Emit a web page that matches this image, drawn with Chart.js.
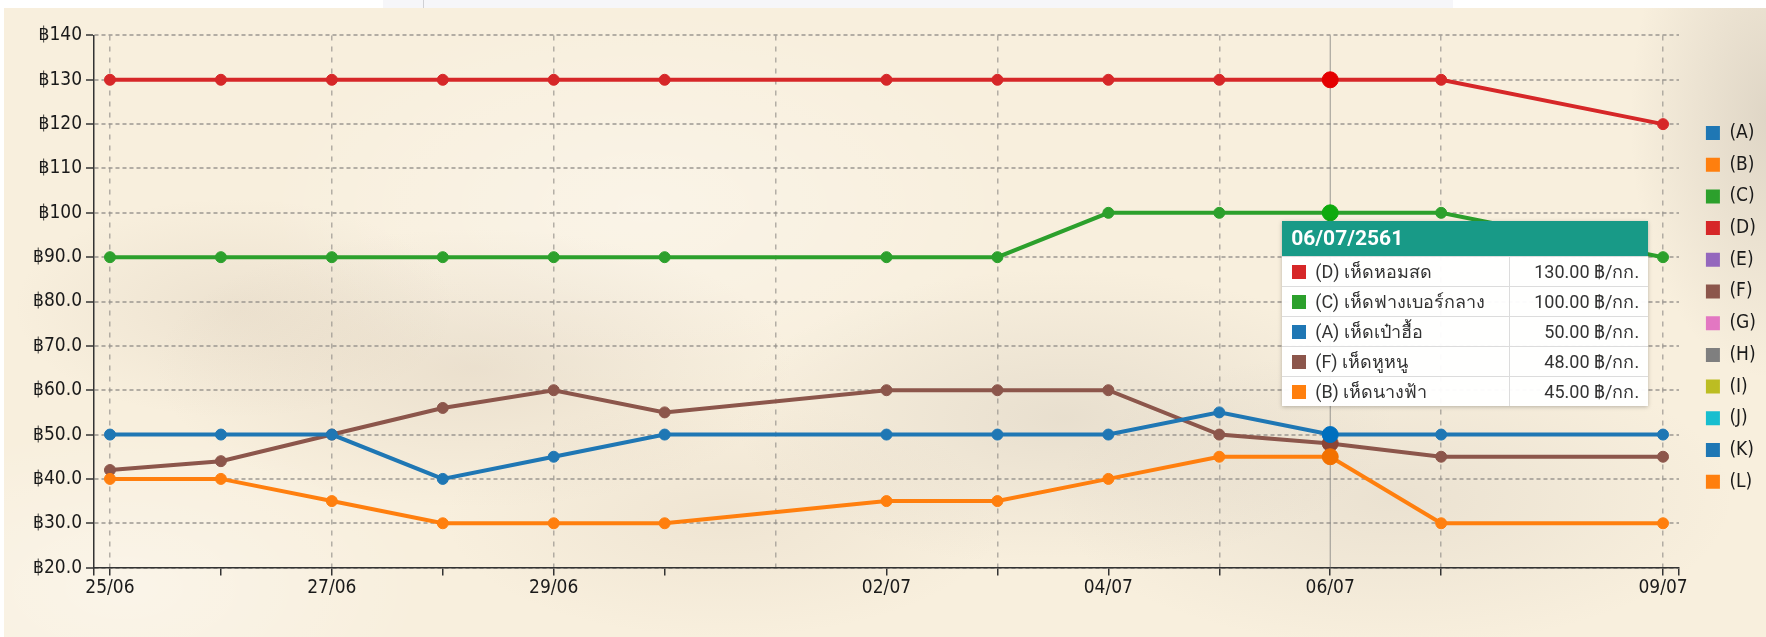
<!DOCTYPE html>
<html>
<head>
<meta charset="utf-8">
<script src="https://cdn.jsdelivr.net/npm/chart.js@4.4.0/dist/chart.umd.min.js"></script>
<style>
  html, body { margin:0; padding:0; width:1766px; height:637px; overflow:hidden; background:#fff; }
  #panel {
    position:absolute; left:4px; top:8px; right:0; bottom:0;
    background:
      radial-gradient(ellipse 320px 140px at 470px 360px, rgba(175,155,135,0.18), rgba(175,155,135,0)),
      radial-gradient(ellipse 220px 110px at 230px 300px, rgba(170,150,130,0.14), rgba(170,150,130,0)),
      radial-gradient(ellipse 330px 150px at 1060px 410px, rgba(160,150,140,0.18), rgba(160,150,140,0)),
      radial-gradient(ellipse 140px 260px at 1766px 110px, rgba(150,140,130,0.26), rgba(150,140,130,0)),
      radial-gradient(ellipse 280px 120px at 720px 510px, rgba(175,155,135,0.12), rgba(175,155,135,0)),
      radial-gradient(ellipse 340px 150px at 1390px 490px, rgba(165,155,145,0.16), rgba(165,155,145,0)),
      radial-gradient(ellipse 380px 200px at 640px 200px, rgba(255,255,255,0.3), rgba(255,255,255,0)),
      radial-gradient(ellipse 300px 160px at 120px 580px, rgba(255,255,255,0.35), rgba(255,255,255,0)),
      #f8efdd;
  }
  #topbar { position:absolute; left:383px; top:0; width:1070px; height:8px; background:#f6f6f9; }
  #topline { position:absolute; left:423px; top:0; width:1px; height:8px; background:#d0d0d4; }
  #clip { position:absolute; left:0; top:25px; width:1766px; height:612px; overflow:hidden; }
  #box { position:absolute; left:0; top:-4px; width:1766px; height:616px; }
  #tip {
    position:absolute; top:221px; width:366px; display:none;
    background:rgba(255,255,255,0.96); box-shadow:0 1px 4px rgba(0,0,0,0.25);
    font-family:Roboto, 'Noto Sans', sans-serif; color:#333;
  }
  #tip .head { background:rgba(6,146,126,0.93); color:#fff; font-weight:bold; font-size:21px;
    height:35px; line-height:35px; padding-left:9px; }
  #tip table { border-collapse:collapse; width:100%; font-size:18px; }
  #tip td { height:28px; padding:0; border-top:1px solid #dcdcdc; white-space:nowrap; }
  #tip td.name { padding-left:10px; }
  #tip td.val { text-align:right; padding-right:9px; border-left:1px solid #dcdcdc; width:129px; }
  #tip .sw { display:inline-block; width:14px; height:14px; margin-right:9px; vertical-align:-1px; }
</style>
</head>
<body>
<div id="panel"></div>
<div id="topbar"></div>
<div id="topline"></div>
<div id="clip"><div id="box"><canvas id="price-chart"></canvas></div></div>
<div id="tip"></div>
<script>
// วันที่มีราคา (dd/mm) ปี พ.ศ. 2561
const dates = ['25/06', '26/06', '27/06', '28/06', '29/06', '30/06', '02/07', '03/07', '04/07', '05/07', '06/07', '07/07', '09/07'];
const yearTh = '2561';
const labeledDates = ['25/06', '27/06', '29/06', '02/07', '04/07', '06/07', '09/07'];
const selectedDate = '06/07';

const codes = ['(A)', '(B)', '(C)', '(D)', '(E)', '(F)', '(G)', '(H)', '(I)', '(J)', '(K)', '(L)'];
const names = ['เห็ดเป๋าฮื้อ', 'เห็ดนางฟ้า', 'เห็ดฟางเบอร์กลาง', 'เห็ดหอมสด', '', 'เห็ดหูหนู', '', '', '', '', '', ''];
const colors = ['#1f77b4', '#ff7f0e', '#2ca02c', '#d62728', '#9467bd', '#8c564b', '#e377c2', '#7f7f7f', '#bcbd22', '#17becf', '#1f77b4', '#ff7f0e'];

const priceA = [50, 50, 50, 40, 45, 50, 50, 50, 50, 55, 50, 50, 50];
const priceB = [40, 40, 35, 30, 30, 30, 35, 35, 40, 45, 45, 30, 30];
const priceC = [90, 90, 90, 90, 90, 90, 90, 90, 100, 100, 100, 100, 90];
const priceD = [130, 130, 130, 130, 130, 130, 130, 130, 130, 130, 130, 130, 120];
const priceF = [42, 44, 50, 56, 60, 55, 60, 60, 60, 50, 48, 45, 45];
const series = [priceA, priceB, priceC, priceD, [], priceF, [], [], [], [], [], []];

const unit = '฿/กก.';
const yMin = 20, yMax = 140, yStep = 10;

const FONT = "'DejaVu Sans Condensed', 'DejaVu Sans', sans-serif";
Chart.defaults.font.family = FONT;
Chart.defaults.color = '#1a1a1a';

// day number from dd/mm
function dayNum(s) {
    const p = s.split('/').map(Number);
    return Date.UTC(2018, p[1] - 1, p[0]) / 86400000;
}
const day0 = dayNum(dates[0]);
const dayIdx = dates.map(s => dayNum(s) - day0);
const lastDay = dayIdx[dayIdx.length - 1];
const edge = 0.144;

// legend sizing
const legendSize = 19, legendPad = 12.7;
const mctx = document.createElement('canvas').getContext('2d');
mctx.font = legendSize + 'px ' + FONT;
const textW = Math.max(...codes.map(c => mctx.measureText(c).width));
const legendW = legendPad + 14 + legendSize / 2 + textW + 10;
let gapW = 14.3;
let padRight = 87 - gapW - legendW;
if (padRight < 0) { gapW += padRight; padRight = 0; }

const gridGray = 'rgba(150,145,140,0.7)';

const hoverLine = {
    id: 'hoverLine',
    beforeDatasetsDraw(chart) {
        const act = chart.tooltip.getActiveElements();
        if (!act.length) return;
        const x = act[0].element.x;
        const ctx = chart.ctx;
        ctx.save();
        ctx.strokeStyle = 'rgba(120,120,120,0.75)';
        ctx.lineWidth = 1;
        ctx.beginPath();
        ctx.moveTo(x, chart.chartArea.top);
        ctx.lineTo(x, chart.chartArea.bottom);
        ctx.stroke();
        ctx.restore();
    }
};

function externalTip(context) {
    const tip = context.tooltip;
    const el = document.getElementById('tip');
    if (tip.opacity === 0) { el.style.display = 'none'; return; }
    let html = '<div class="head">' + tip.title.join('') + '</div><table>';
    tip.dataPoints.forEach(dp => {
        const i = dp.datasetIndex;
        html += '<tr><td class="name"><span class="sw" style="background:' + colors[i] + '"></span>' +
            codes[i] + ' ' + names[i] + '</td><td class="val">' + dp.parsed.y.toFixed(2) + ' ' + unit + '</td></tr>';
    });
    html += '</table>';
    el.innerHTML = html;
    el.style.display = 'block';
    el.style.left = (tip.caretX - 48) + 'px';
}

const datasets = series.map((vals, i) => ({
    label: codes[i] + ' ' + names[i],
    data: vals.map((v, j) => ({ x: dayIdx[j], y: v })),
    borderColor: colors[i],
    backgroundColor: colors[i],
    pointBackgroundColor: colors[i],
    pointBorderColor: colors[i],
    borderWidth: 4,
    pointRadius: 5.5,
    pointBorderWidth: 1,
    pointHoverRadius: 8,
    pointHoverBorderWidth: 1,
    tension: 0
}));

const chart = new Chart(document.getElementById('price-chart'), {
    type: 'line',
    data: { datasets: datasets },
    options: {
        animation: false,
        responsive: true,
        maintainAspectRatio: false,
        events: [],
        layout: { padding: { top: 10.6, bottom: 29.4, left: 0, right: padRight } },
        interaction: { mode: 'index', intersect: false },
        scales: {
            x: {
                type: 'linear',
                min: -edge,
                max: lastDay + edge,
                afterBuildTicks: (scale) => {
                    const t = [{ value: -edge }];
                    for (let d = 0; d <= lastDay; d++) t.push({ value: d });
                    t.push({ value: lastDay + edge });
                    scale.ticks = t;
                },
                afterFit: (scale) => { scale.height = 40; },
                grid: {
                    color: (c) => (Number.isInteger(c.tick.value) && c.tick.value % 2 === 0) ? gridGray : 'rgba(0,0,0,0)',
                    tickColor: (c) => {
                        const v = c.tick.value;
                        return (!Number.isInteger(v) || dayIdx.includes(v)) ? '#333' : 'rgba(0,0,0,0)';
                    },
                    lineWidth: 1.5,
                    tickWidth: 1.5,
                    tickLength: 8
                },
                border: { color: '#333', width: 1.5, dash: [5, 6] },
                ticks: {
                    autoSkip: false,
                    maxRotation: 0,
                    minRotation: 0,
                    padding: 2,
                    font: { size: 19, lineHeight: 1.1 },
                    callback: (v) => {
                        const j = dayIdx.indexOf(v);
                        return (j >= 0 && labeledDates.includes(dates[j])) ? dates[j] : '';
                    }
                }
            },
            y: {
                min: yMin,
                max: yMax,
                afterFit: (scale) => { scale.width = 94; },
                grid: { color: gridGray, tickColor: '#333', lineWidth: 2, tickWidth: 1.5, tickLength: 8 },
                border: { color: '#333', width: 1.5, dash: [4, 3] },
                ticks: {
                    stepSize: yStep,
                    padding: 4,
                    font: { size: 19, lineHeight: 1.1 },
                    callback: (v) => '฿' + (v >= 100 ? v : v.toFixed(1))
                }
            },
            gap: {
                type: 'linear',
                position: 'right',
                display: true,
                grid: { display: false },
                border: { display: false },
                ticks: { display: false },
                afterFit: (scale) => { scale.width = gapW; }
            }
        },
        plugins: {
            legend: {
                position: 'right',
                align: 'start',
                title: { display: true, text: ' ', font: { size: 10, lineHeight: 1.2 }, padding: { top: 67.2, bottom: 0 } },
                labels: {
                    boxWidth: 14,
                    boxHeight: 14,
                    padding: legendPad,
                    font: { size: legendSize },
                    generateLabels: (ch) => ch.data.datasets.map((d, i) => ({
                        text: codes[i],
                        fillStyle: colors[i],
                        strokeStyle: colors[i],
                        lineWidth: 0,
                        hidden: false,
                        datasetIndex: i
                    }))
                }
            },
            tooltip: {
                enabled: false,
                external: externalTip,
                itemSort: (a, b) => b.parsed.y - a.parsed.y,
                callbacks: {
                    title: (items) => dates[items[0].dataIndex] + '/' + yearTh
                }
            }
        }
    },
    plugins: [hoverLine]
});

const selIdx = dates.indexOf(selectedDate);
const active = series.map((s, i) => ({ datasetIndex: i, index: selIdx })).filter(a => series[a.datasetIndex].length);
chart.setActiveElements(active);
chart.tooltip.setActiveElements(active, { x: 0, y: 0 });
chart.update();
</script>
</body>
</html>
